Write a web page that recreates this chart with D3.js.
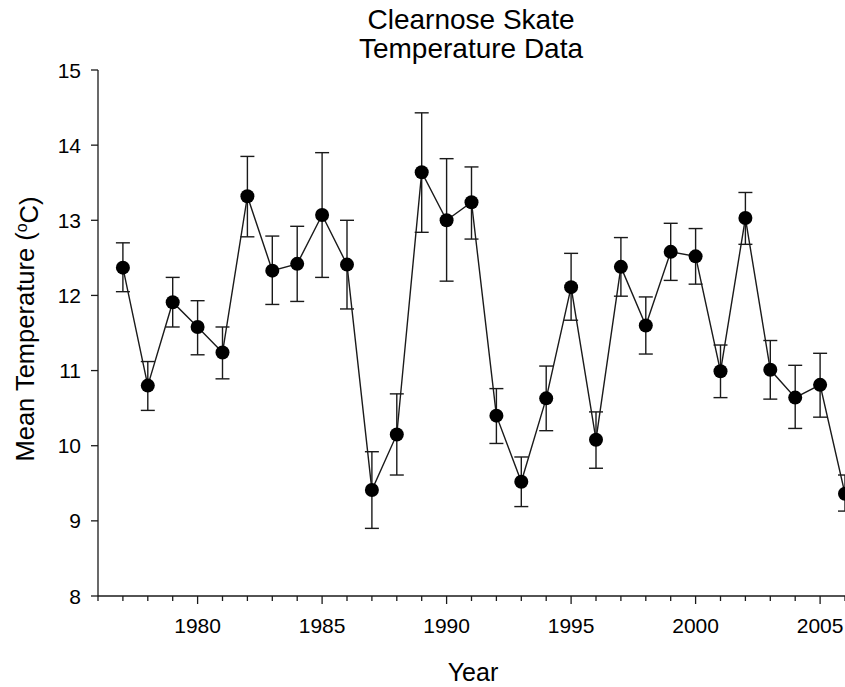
<!DOCTYPE html>
<html>
<head>
<meta charset="utf-8">
<script src="https://cdnjs.cloudflare.com/ajax/libs/d3/7.8.5/d3.min.js"></script>
<style>
  body { margin: 0; background: #fff; }
  text { font-family: Arial, "Liberation Sans", sans-serif; fill: #000; }
</style>
</head>
<body>
<div id="chart-container"></div>
<script>
// Data
var years = [1977, 1978, 1979, 1980, 1981, 1982, 1983, 1984, 1985, 1986,
             1987, 1988, 1989, 1990, 1991, 1992, 1993, 1994, 1995, 1996,
             1997, 1998, 1999, 2000, 2001, 2002, 2003, 2004, 2005, 2006];
var meanTemp = [12.37, 10.80, 11.91, 11.58, 11.24, 13.32, 12.33, 12.42, 13.07, 12.41,
                9.41, 10.15, 13.64, 13.00, 13.24, 10.40, 9.52, 10.63, 12.11, 10.08,
                12.38, 11.60, 12.58, 12.52, 10.99, 13.03, 11.01, 10.64, 10.81, 9.36];
var errUpper = [12.70, 11.12, 12.24, 11.93, 11.58, 13.85, 12.79, 12.92, 13.90, 13.00,
                9.92, 10.69, 14.43, 13.82, 13.71, 10.76, 9.85, 11.06, 12.56, 10.45,
                12.77, 11.98, 12.96, 12.89, 11.34, 13.37, 11.40, 11.07, 11.23, 9.61];
var errLower = [12.05, 10.47, 11.58, 11.21, 10.89, 12.78, 11.88, 11.92, 12.24, 11.82,
                8.90, 9.61, 12.84, 12.19, 12.75, 10.03, 9.19, 10.20, 11.67, 9.70,
                11.99, 11.22, 12.20, 12.15, 10.64, 12.68, 10.62, 10.23, 10.38, 9.13];
var yTicks = [8, 9, 10, 11, 12, 13, 14, 15];
var xMajorTicks = [1980, 1985, 1990, 1995, 2000, 2005];

var data = years.map(function(y, i) {
  return { year: y, mean: meanTemp[i], hi: errUpper[i], lo: errLower[i] };
});

var W = 845, H = 687;
var margin = { top: 70, right: 0, bottom: 91, left: 98 };

var svg = d3.select("#chart-container")
  .append("svg")
  .attr("width", W)
  .attr("height", H);

var xScale = d3.scaleLinear().domain([1976, 2006]).range([margin.left, W - margin.right]);
var yScale = d3.scaleLinear().domain([8, 15]).range([H - margin.bottom, margin.top]);

var ink = "#1a1a1a";

// Axes lines
svg.append("line")
  .attr("x1", margin.left).attr("x2", margin.left)
  .attr("y1", yScale(8)).attr("y2", yScale(15))
  .attr("stroke", ink).attr("stroke-width", 1.3);
svg.append("line")
  .attr("x1", margin.left).attr("x2", W)
  .attr("y1", yScale(8)).attr("y2", yScale(8))
  .attr("stroke", ink).attr("stroke-width", 1.3);

// Y ticks + labels
svg.selectAll(".ytick").data(yTicks).enter().append("line")
  .attr("x1", margin.left - 7).attr("x2", margin.left)
  .attr("y1", function(d) { return yScale(d); })
  .attr("y2", function(d) { return yScale(d); })
  .attr("stroke", ink).attr("stroke-width", 1.3);
svg.selectAll(".ylab").data(yTicks).enter().append("text")
  .attr("x", margin.left - 17)
  .attr("y", function(d) { return yScale(d); })
  .attr("dy", "0.36em")
  .attr("text-anchor", "end")
  .style("font-size", "21px")
  .text(function(d) { return d; });

// X ticks: minor every year, major every 5
var allYears = d3.range(1976, 2007);
svg.selectAll(".xminor").data(allYears).enter().append("line")
  .attr("x1", function(d) { return xScale(d); })
  .attr("x2", function(d) { return xScale(d); })
  .attr("y1", yScale(8))
  .attr("y2", function(d) { return yScale(8) + (xMajorTicks.indexOf(d) >= 0 ? 8 : 5); })
  .attr("stroke", ink).attr("stroke-width", 1.3);
svg.selectAll(".xlab").data(xMajorTicks).enter().append("text")
  .attr("x", function(d) { return xScale(d); })
  .attr("y", yScale(8) + 37)
  .attr("text-anchor", "middle")
  .style("font-size", "21px")
  .text(function(d) { return d; });

// Error bars
var cap = 7;
var eb = svg.append("g").attr("stroke", ink).attr("stroke-width", 1.4).attr("fill", "none");
data.forEach(function(d) {
  var x = xScale(d.year);
  eb.append("line").attr("x1", x).attr("x2", x).attr("y1", yScale(d.hi)).attr("y2", yScale(d.lo));
  eb.append("line").attr("x1", x - cap).attr("x2", x + cap).attr("y1", yScale(d.hi)).attr("y2", yScale(d.hi));
  eb.append("line").attr("x1", x - cap).attr("x2", x + cap).attr("y1", yScale(d.lo)).attr("y2", yScale(d.lo));
});

// Line
var line = d3.line()
  .x(function(d) { return xScale(d.year); })
  .y(function(d) { return yScale(d.mean); });
svg.append("path")
  .datum(data)
  .attr("d", line)
  .attr("fill", "none")
  .attr("stroke", ink)
  .attr("stroke-width", 1.4);

// Points
svg.selectAll(".pt").data(data).enter().append("circle")
  .attr("cx", function(d) { return xScale(d.year); })
  .attr("cy", function(d) { return yScale(d.mean); })
  .attr("r", 7)
  .attr("fill", "#000");

// Title
var title = svg.append("text")
  .attr("text-anchor", "middle")
  .style("font-size", "28px");
title.append("tspan").attr("x", 471).attr("y", 29).text("Clearnose Skate");
title.append("tspan").attr("x", 471).attr("y", 58).text("Temperature Data");

// Axis titles
svg.append("text")
  .attr("x", 473).attr("y", 681)
  .attr("text-anchor", "middle")
  .style("font-size", "25px")
  .text("Year");

var yl = svg.append("text")
  .attr("transform", "translate(34,329) rotate(-90)")
  .attr("text-anchor", "middle")
  .style("font-size", "25.5px");
yl.append("tspan").text("Mean Temperature (");
yl.append("tspan").attr("dy", "-0.45em").style("font-size", "16px").text("o");
yl.append("tspan").attr("dy", "0.45em").text("C)");
</script>
</body>
</html>
